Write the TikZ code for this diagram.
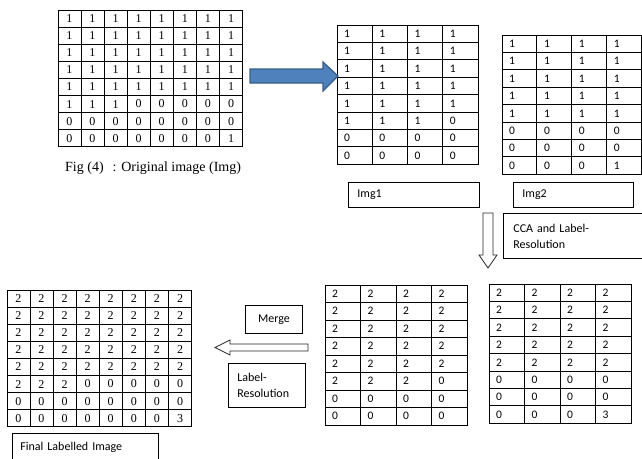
\documentclass[tikz,border=0pt]{standalone}
\usepackage{fontspec}
\setmainfont{Liberation Serif}
\newfontfamily\calibri{Carlito}
\definecolor{arrowblue}{HTML}{4F81BD}
\definecolor{arrowedge}{HTML}{385D8A}
\tikzset{
  gline/.style={draw=black, line width=0.8pt},
  sercell/.style={anchor=center, inner sep=0pt, font=\fontsize{12}{14}\selectfont},
  sanscell/.style={anchor=west, inner sep=0pt, font=\calibri\fontsize{11.5}{13}\selectfont},
  lblbox/.style={draw=black, line width=0.8pt, rectangle, anchor=north west, inner ysep=0pt,
    align=left, font=\calibri\fontsize{12}{16}\selectfont},
  hollow/.style={draw=black!85, line width=0.8pt, fill=white},
  blockarrow/.style={fill=arrowblue, draw=arrowedge, line width=1.2pt},
}
\newcommand{\cellgrid}[8]{%
  \foreach \row [count=\r] in {#8} {%
    \foreach \v [count=\c] in \row {%
      \draw[gline] ({#2+(\c-1)*#4},{#3+(\r-1)*#5}) rectangle ++(#4,#5);
      \node[#6] (#1-\r-\c) at ({#2+(\c-1)*#4+#7},{#3+(\r-0.5)*#5}) {\v};
    }}}
\begin{document}
\begin{tikzpicture}[x=1pt,y=-1pt]
\useasboundingbox (0,0) rectangle (642,458);
% original image
\cellgrid{g0}{58}{10}{23.1}{17.1}{sercell}{11.3}{{1,1,1,1,1,1,1,1},{1,1,1,1,1,1,1,1},{1,1,1,1,1,1,1,1},{1,1,1,1,1,1,1,1},{1,1,1,1,1,1,1,1},{1,1,1,0,0,0,0,0},{0,0,0,0,0,0,0,0},{0,0,0,0,0,0,0,1}}
\node[anchor=west, inner sep=0pt, font=\fontsize{14}{16}\selectfont] (cap) at (65,168) {Fig (4)\hspace{9pt}: Original image (Img)};
% Img1
\cellgrid{g1}{337}{25}{35.25}{17.4}{sanscell}{7}{{1,1,1,1},{1,1,1,1},{1,1,1,1},{1,1,1,1},{1,1,1,1},{1,1,1,0},{0,0,0,0},{0,0,0,0}}
% Img2
\cellgrid{g2}{502}{35}{34.85}{17.4}{sanscell}{7}{{1,1,1,1},{1,1,1,1},{1,1,1,1},{1,1,1,1},{1,1,1,1},{0,0,0,0},{0,0,0,0},{0,0,0,1}}
% labels
\node[lblbox, inner xsep=9pt, text width=113pt, minimum height=25pt] (img1) at (348,182) {Img1};
\node[lblbox, inner xsep=9pt, text width=102pt, minimum height=25pt] (img2) at (513,182) {Img2};
\node[lblbox, inner xsep=10pt, text width=122pt, minimum height=45pt] (cca) at (503,213) {CCA and Label-\\Resolution};
% blue arrow
\coordinate (ba1) at (250,76);
\coordinate (ba2) at (338,76);
\path[blockarrow] (250,69) -- (323,69) -- (323,62) -- (ba2) -- (323,91) -- (323,83) -- (250,83) -- cycle;
% down arrow
\coordinate (da) at (488,268);
\path[hollow] (483,213) -- (493,213) -- (493,255) -- (497,255) -- (da) -- (479,255) -- (483,255) -- cycle;
% lower grids
\cellgrid{g4}{325}{285}{35.5}{17.5}{sanscell}{7}{{2,2,2,2},{2,2,2,2},{2,2,2,2},{2,2,2,2},{2,2,2,2},{2,2,2,0},{0,0,0,0},{0,0,0,0}}
\cellgrid{g5}{489}{284}{35.5}{17.4}{sanscell}{7}{{2,2,2,2},{2,2,2,2},{2,2,2,2},{2,2,2,2},{2,2,2,2},{0,0,0,0},{0,0,0,0},{0,0,0,3}}
% final
\cellgrid{g3}{7}{290}{23.1}{17.1}{sercell}{11.3}{{2,2,2,2,2,2,2,2},{2,2,2,2,2,2,2,2},{2,2,2,2,2,2,2,2},{2,2,2,2,2,2,2,2},{2,2,2,2,2,2,2,2},{2,2,2,0,0,0,0,0},{0,0,0,0,0,0,0,0},{0,0,0,0,0,0,0,3}}
\node[lblbox, inner xsep=8pt, text width=130pt, minimum height=27pt] (final) at (12,433) {Final Labelled Image};
% merge / label resolution
\node[lblbox, inner xsep=0pt, text width=57pt, align=center, minimum height=28pt] (merge) at (245,305) {Merge};
\node[lblbox, inner xsep=9pt, text width=59pt, minimum height=44pt] (lres) at (228,363) {Label-\\Resolution};
\coordinate (la) at (215,347.5);
\path[hollow] (308,344) -- (230,344) -- (230,340) -- (la) -- (230,355) -- (230,351) -- (308,351) -- cycle;
\end{tikzpicture}
\end{document}
